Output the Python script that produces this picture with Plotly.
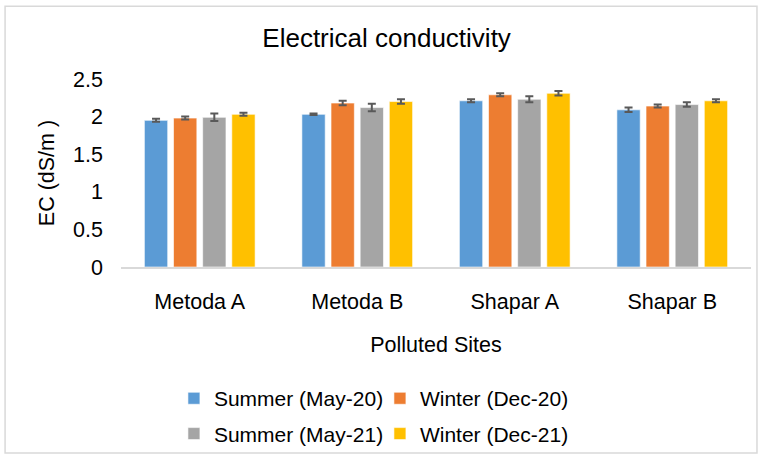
import plotly.graph_objects as go

sites = ["Metoda A", "Metoda B", "Shapar A", "Shapar B"]
series_names = ["Summer (May-20)", "Winter (Dec-20)", "Summer (May-21)", "Winter (Dec-21)"]
summer20 = [1.95, 2.03, 2.21, 2.09]
winter20 = [1.98, 2.18, 2.29, 2.14]
summer21 = [1.99, 2.12, 2.23, 2.16]
winter21 = [2.03, 2.20, 2.31, 2.21]
err_summer20 = [0.02, 0.01, 0.02, 0.03]
err_winter20 = [0.02, 0.03, 0.02, 0.02]
err_summer21 = [0.05, 0.05, 0.04, 0.03]
err_winter21 = [0.02, 0.03, 0.03, 0.02]
y_ticks = [0, 0.5, 1, 1.5, 2, 2.5]
y_tick_labels = ["0", "0.5", "1", "1.5", "2", "2.5"]

colors = ["#5B9BD5", "#ED7D31", "#A5A5A5", "#FFC000"]
values = [summer20, winter20, summer21, winter21]
errors = [err_summer20, err_winter20, err_summer21, err_winter21]
legends = ["legend", "legend", "legend2", "legend2"]

FONT = "Liberation Sans, Arial, sans-serif"
FS = 21.5
LFS = 21

fig = go.Figure()
for name, vals, errs, col, lg in zip(series_names, values, errors, colors, legends):
    fig.add_trace(go.Bar(
        x=sites, y=vals, name=name,
        marker=dict(color=col, line=dict(color="rgba(255,255,255,0.6)", width=1)),
        error_y=dict(type="data", array=errs, visible=True, color="#595959",
                     thickness=2, width=4),
        legend=lg,
    ))

fig.update_layout(
    width=761, height=464,
    margin=dict(l=121, r=10, t=79, b=194),
    paper_bgcolor="white", plot_bgcolor="white",
    font=dict(family=FONT, size=FS, color="#000000"),
    barmode="group", bargap=0.26, bargroupgap=0.2,
    title=dict(text="Electrical conductivity", x=0.508, xanchor="center",
               y=1 - 38 / 464, yanchor="middle",
               font=dict(family=FONT, size=26, color="#000000")),
    xaxis=dict(showgrid=False, showline=True, linecolor="#D9D9D9", linewidth=2,
               ticks="", ticklabelstandoff=14,
               title=dict(text="Polluted Sites", standoff=24,
                          font=dict(family=FONT, size=FS))),
    yaxis=dict(range=[0, 2.5], tickvals=y_ticks, ticktext=y_tick_labels,
               showgrid=False, showline=False, zeroline=False, ticks="",
               ticklabelstandoff=17,
               title=dict(text="EC (dS/m )", standoff=12,
                          font=dict(family=FONT, size=FS))),
    legend=dict(orientation="h", x=0.411, xanchor="center", y=-0.70, yanchor="middle",
                font=dict(family=FONT, size=LFS), itemwidth=30, entrywidth=161,
                tracegroupgap=0, bgcolor="rgba(0,0,0,0)"),
    legend2=dict(orientation="h", x=0.411, xanchor="center", y=-0.888, yanchor="middle",
                 font=dict(family=FONT, size=LFS), itemwidth=30, entrywidth=161,
                 tracegroupgap=0, bgcolor="rgba(0,0,0,0)"),
    shapes=[dict(type="rect", xref="paper", yref="paper",
                 x0=-0.184, x1=1.0095, y0=-0.99, y1=1.387,
                 line=dict(color="#D9D9D9", width=1.5), fillcolor="rgba(0,0,0,0)",
                 layer="below")],
)

fig.write_html("out.html", config={"displayModeBar": False},
               post_script="document.body.style.margin='0';")
